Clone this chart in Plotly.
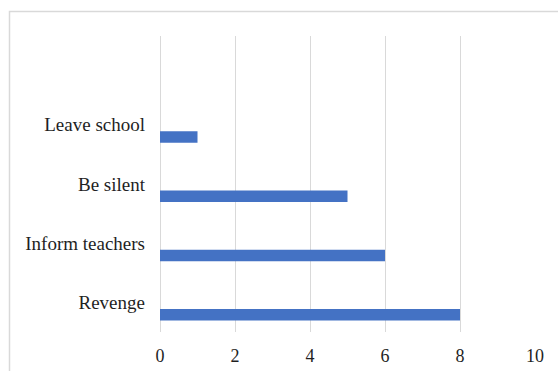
import plotly.graph_objects as go

# Responses to bullying, counts per option
categories = ["Revenge", "Inform teachers", "Be silent", "Leave school"]
counts = [8, 6, 5, 1]
x_ticks = [0, 2, 4, 6, 8, 10]

W, H = 558, 371
ML, MR, MT, MB = 160, 23, 36, 39
plot_w = W - ML - MR
plot_h = H - MT - MB

positions = list(range(len(categories)))

fig = go.Figure(
    go.Bar(
        x=counts,
        y=positions,
        orientation="h",
        marker=dict(color="#4472C4", line=dict(width=0)),
        width=0.195,
        offset=-0.305,
        hoverinfo="x+text",
        text=categories,
        textposition="none",
    )
)

# outer chart frame (runs off the right and bottom edges)
def px_x(p):
    return (p - ML) / plot_w

def px_y(p):
    return (H - MB - p) / plot_h

fig.add_shape(
    type="rect",
    xref="paper", yref="paper",
    x0=px_x(9.5), x1=px_x(W + 20),
    y0=px_y(H + 20), y1=px_y(11.5),
    line=dict(color="#d9d9d9", width=1.5),
    fillcolor="rgba(0,0,0,0)",
    layer="below",
)

fig.update_layout(
    width=W,
    height=H,
    margin=dict(l=ML, r=MR, t=MT, b=MB, pad=0, autoexpand=False),
    paper_bgcolor="white",
    plot_bgcolor="white",
    showlegend=False,
    font=dict(family="Liberation Serif", size=18, color="#1f1f1f"),
    xaxis=dict(
        range=[0, 10],
        tickvals=x_ticks,
        ticktext=[str(v) for v in x_ticks],
        showgrid=True,
        gridcolor="#d9d9d9",
        gridwidth=1,
        zeroline=True,
        zerolinecolor="#d9d9d9",
        zerolinewidth=1,
        showline=False,
        ticks="",
        ticklabelstandoff=11,
        automargin=False,
        tickfont=dict(family="Liberation Serif", size=18, color="#1f1f1f"),
        fixedrange=True,
    ),
    yaxis=dict(
        range=[-0.5, len(categories) + 0.5],
        tickvals=positions,
        ticktext=categories,
        showgrid=False,
        zeroline=False,
        showline=False,
        ticks="",
        ticklabelstandoff=14,
        automargin=False,
        tickfont=dict(family="Liberation Serif", size=19, color="#1f1f1f"),
        fixedrange=True,
    ),
)

fig.write_html("out.html")
